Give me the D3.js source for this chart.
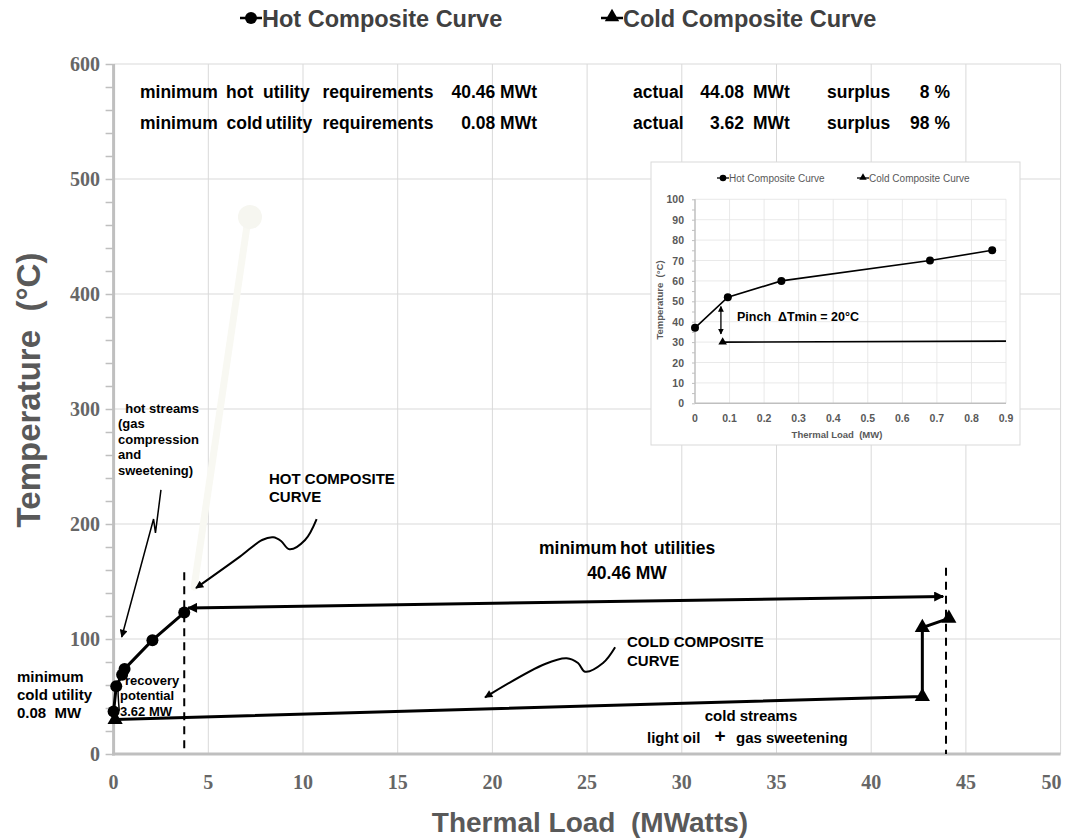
<!DOCTYPE html>
<html><head><meta charset="utf-8">
<script src="https://cdn.jsdelivr.net/npm/d3@7"></script>
<style>
body{margin:0;background:#fff}
svg{display:block}
text{font-family:"Liberation Sans",Arial,Helvetica,sans-serif;white-space:pre}
</style>
</head><body>
<svg id="c" width="1076" height="840"></svg>
<script>
// ---------- data ----------
const hotLoad = [0, 0.14, 0.45, 0.58, 2.05, 3.73];
const hotTemp = [37, 59, 69, 74, 99, 123];
const coldLoad = [0.08, 42.7, 42.7, 44.1];
const coldTemp = [30, 50, 110, 118];
const xTicks = [0, 5, 10, 15, 20, 25, 30, 35, 40, 45, 50];
const yTicks = [0, 100, 200, 300, 400, 500, 600];
const yMinorTicks = d3.range(0, 601, 20);
// pinch / utility annotation lines (load, temp)
const pinchLineLoad = [3.73, 43.95];
const pinchLineTop = [158, 162];
const pinchLineBottom = [3, 0];
const hotUtilArrowLoad = [3.93, 43.8];
const hotUtilArrowTemp = [127, 137];
// annotation curves (load, temp)
const hotNoteLoad = [10.72, 10.11, 9.28, 8.84, 8.43, 7.84, 6.67, 4.35];
const hotNoteTemp = [204.3, 186.1, 178, 185.2, 188.4, 186.1, 171.6, 144.3];
const coldNoteLoad = [26.48, 25.84, 24.89, 24.52, 23.92, 22.78, 19.61];
const coldNoteTemp = [92.8, 79.1, 71.6, 79.1, 83.2, 78.3, 49.3];
const streamNoteLoad = [2.5, 2.21, 2.11, 0.43];
const streamNoteTemp = [229.6, 192.2, 204.3, 101.7];
const recovNoteLoad = [0.72, 0.36, 0.24, 0.3];
const recovNoteTemp = [72.5, 69, 60, 37.5];
const ghostLoad = [4.25, 7.04];
const ghostTemp = [145.2, 459];
// inset
const insetHotLoad = [0, 0.095, 0.25, 0.68, 0.86];
const insetHotTemp = [37, 52, 60, 70, 75];
const insetColdLoad = [0.08, 0.9];
const insetColdTemp = [30, 30.5];
const insetXTicks = [0, 0.1, 0.2, 0.3, 0.4, 0.5, 0.6, 0.7, 0.8, 0.9];
const insetYTicks = [0, 10, 20, 30, 40, 50, 60, 70, 80, 90, 100];
const insetPinchLoad = 0.075;
const insetPinchTemp = [47.5, 34];

// ---------- setup ----------
const svg = d3.select("#c");
svg.append("rect").attr("width",1076).attr("height",840).attr("fill","#fff");
const defs = svg.append("defs");
function mk(id, w, h, orient){
  defs.append("marker").attr("id",id).attr("viewBox","0 0 10 10")
    .attr("refX",9).attr("refY",5).attr("markerWidth",w).attr("markerHeight",h)
    .attr("markerUnits","userSpaceOnUse").attr("orient",orient)
    .append("path").attr("d","M0,0 L10,5 L0,10 Z").attr("fill","#000");
}
mk("ah",13,10,"auto-start-reverse");
mk("ahs",10,8,"auto-start-reverse");
mk("ahi",6,6,"auto-start-reverse");

const x = d3.scaleLinear().domain([0,50]).range([113.6,1060.6]);
const y = d3.scaleLinear().domain([0,600]).range([754,64]);

const gridC = "#d9d9d9", axisC = "#bfbfbf", labC = "#666666";

// grid
const g = svg.append("g");
g.selectAll(".vg").data(xTicks.slice(1)).join("line")
  .attr("x1",d=>x(d)).attr("x2",d=>x(d)).attr("y1",y(0)).attr("y2",y(600))
  .attr("stroke",gridC).attr("stroke-width",1);
g.selectAll(".hg").data(yTicks.slice(1)).join("line")
  .attr("x1",x(0)).attr("x2",x(50)).attr("y1",d=>y(d)).attr("y2",d=>y(d))
  .attr("stroke",gridC).attr("stroke-width",1);

// axes
const yAxis = d3.axisLeft(y).tickValues(yMinorTicks).tickSize(8).tickFormat("");
const ya = svg.append("g").attr("transform",`translate(${x(0)},0)`).call(yAxis);
ya.selectAll("line").attr("stroke",axisC).attr("stroke-width",1.5);
ya.select(".domain").remove();
svg.append("line").attr("x1",x(0)).attr("x2",x(0)).attr("y1",y(600)).attr("y2",y(0)+1.5)
  .attr("stroke",axisC).attr("stroke-width",3);
svg.append("line").attr("x1",x(0)-1.5).attr("x2",x(50)).attr("y1",y(0)).attr("y2",y(0))
  .attr("stroke",axisC).attr("stroke-width",3);

svg.selectAll(".yl").data(yTicks).join("text")
  .attr("x",100).attr("y",d=>y(d)+7).attr("text-anchor","end")
  .style("font-family","'Liberation Serif','Times New Roman',serif").style("font-weight","bold")
  .style("font-size","20px").attr("fill",labC).text(d=>d);
svg.selectAll(".xl").data(xTicks).join("text")
  .attr("x",d=> d===50 ? x(d)+1 : x(d)).attr("y",789)
  .attr("text-anchor",d=> d===50 ? "end":"middle")
  .style("font-family","'Liberation Serif','Times New Roman',serif").style("font-weight","bold")
  .style("font-size","20px").attr("fill",labC).text(d=>d);

// axis titles
svg.append("text").attr("transform","translate(40,390) rotate(-90)").attr("text-anchor","middle")
  .style("font-size","33px").style("font-weight","bold").attr("fill","#595959").text("Temperature  (°C)");
svg.append("text").attr("x",590).attr("y",832).attr("text-anchor","middle")
  .style("font-size","28px").style("font-weight","bold").attr("fill","#595959").text("Thermal Load  (MWatts)");

// legend
const lg = svg.append("g");
lg.append("line").attr("x1",240).attr("x2",262).attr("y1",18).attr("y2",18).attr("stroke","#000").attr("stroke-width",2.5);
lg.append("circle").attr("cx",251).attr("cy",18).attr("r",6).attr("fill","#000");
lg.append("text").attr("x",262).attr("y",26.5).style("font-size","23.5px").style("font-weight","bold").attr("fill","#404040").text("Hot Composite Curve");
lg.append("line").attr("x1",601).attr("x2",623).attr("y1",18).attr("y2",18).attr("stroke","#000").attr("stroke-width",2.5);
lg.append("path").attr("transform","translate(612,17)").attr("d",d3.symbol().type(d3.symbolTriangle).size(90)()).attr("fill","#000");
lg.append("text").attr("x",623).attr("y",26.5).style("font-size","23.5px").style("font-weight","bold").attr("fill","#404040").text("Cold Composite Curve");

// top text
function t(xp,yp,s,anchor,size){
  svg.append("text").attr("x",xp).attr("y",yp).attr("text-anchor",anchor||"start")
   .style("font-size",(size||17.5)+"px").style("font-weight","bold").attr("fill","#000").text(s);
}
t(140,98,"minimum"); t(226,98,"hot"); t(263,98,"utility"); t(322.5,98,"requirements");
t(537,98,"40.46 MWt","end");
t(140,129,"minimum"); t(226.5,129,"cold"); t(265.5,129,"utility"); t(322.5,129,"requirements");
t(537,129,"0.08 MWt","end");
t(633,98,"actual"); t(744,98,"44.08","end"); t(753,98,"MWt"); t(827,98,"surplus"); t(950,98,"8 %","end");
t(633,129,"actual"); t(744,129,"3.62","end"); t(753,129,"MWt"); t(827,129,"surplus"); t(950,129,"98 %","end");

// ghost faint line
svg.append("line").attr("x1",x(ghostLoad[0])).attr("y1",y(ghostTemp[0])).attr("x2",x(ghostLoad[1])).attr("y2",y(ghostTemp[1]))
  .attr("stroke","#f8f8f2").attr("stroke-width",7).attr("stroke-linecap","round");
svg.append("circle").attr("cx",x(7.2)).attr("cy",y(467)).attr("r",12).attr("fill","#f6f6f0");

// dashed pinch lines
svg.selectAll(".dl").data(pinchLineLoad).join("line")
  .attr("x1",d=>x(d)).attr("x2",d=>x(d)).attr("y1",(d,i)=>y(pinchLineTop[i])).attr("y2",(d,i)=>y(pinchLineBottom[i]))
  .attr("stroke","#000").attr("stroke-width",2).attr("stroke-dasharray","8,6");

// hot utility arrow
svg.append("line").attr("x1",x(hotUtilArrowLoad[0])).attr("y1",y(hotUtilArrowTemp[0]))
  .attr("x2",x(hotUtilArrowLoad[1])).attr("y2",y(hotUtilArrowTemp[1]))
  .attr("stroke","#000").attr("stroke-width",3)
  .attr("marker-start","url(#ah)").attr("marker-end","url(#ah)");

// curves
const line = d3.line().x(d=>x(d[0])).y(d=>y(d[1]));
const hotPts = hotLoad.map((v,i)=>[v,hotTemp[i]]);
const coldPts = coldLoad.map((v,i)=>[v,coldTemp[i]]);
svg.append("path").attr("d",line(hotPts)).attr("fill","none").attr("stroke","#000").attr("stroke-width",3);
svg.append("path").attr("d",line(coldPts)).attr("fill","none").attr("stroke","#000").attr("stroke-width",3);
svg.selectAll(".hp").data(hotPts).join("circle").attr("cx",d=>x(d[0])).attr("cy",d=>y(d[1])).attr("r",6).attr("fill","#000");
svg.selectAll(".cp").data(coldPts).join("path")
  .attr("transform",d=>`translate(${x(d[0])},${y(d[1])})`)
  .attr("d",d3.symbol().type(d3.symbolTriangle).size(100)()).attr("fill","#000");

// annotation arrows
const cr = d3.line().x(d=>x(d[0])).y(d=>y(d[1])).curve(d3.curveCatmullRom);
svg.append("path").attr("d",cr(hotNoteLoad.map((v,i)=>[v,hotNoteTemp[i]])))
  .attr("fill","none").attr("stroke","#000").attr("stroke-width",2).attr("marker-end","url(#ahs)");
svg.append("path").attr("d",cr(coldNoteLoad.map((v,i)=>[v,coldNoteTemp[i]])))
  .attr("fill","none").attr("stroke","#000").attr("stroke-width",2).attr("marker-end","url(#ahs)");
svg.append("path").attr("d",line(streamNoteLoad.map((v,i)=>[v,streamNoteTemp[i]])))
  .attr("fill","none").attr("stroke","#000").attr("stroke-width",1.5).attr("marker-end","url(#ahs)");
svg.append("path").attr("d",cr(recovNoteLoad.map((v,i)=>[v,recovNoteTemp[i]])))
  .attr("fill","none").attr("stroke","#000").attr("stroke-width",1.5);

// annotation texts
t(539,554,"minimum"); t(620,554,"hot"); t(654,554,"utilities");
t(627,579,"40.46 MW","middle",17.5);
t(269,484,"HOT COMPOSITE","start",15);
t(269,502,"CURVE","start",15);
t(627,647,"COLD COMPOSITE","start",15);
t(627,666,"CURVE","start",15);
t(751,721,"cold streams","middle",15);
t(647,743,"light oil","start",15);
t(720,742,"+","middle",19);
t(736,743,"gas sweetening","start",15);
t(118,413,"  hot streams","start",13);
t(118,428,"(gas","start",13);
t(118,444,"compression","start",13);
t(118,459,"and","start",13);
t(118,475,"sweetening)","start",13);
t(17,682,"minimum","start",15);
t(17,700,"cold utility","start",15);
t(17,718,"0.08  MW","start",15);
t(125,685,"recovery","start",13);
t(120,700,"potential","start",13);
t(120,716,"3.62 MW","start",13);

// ---------- inset ----------
const ins = svg.append("g");
ins.append("rect").attr("x",651).attr("y",162).attr("width",369).attr("height",283)
  .attr("fill","#fff").attr("stroke","#d9d9d9").attr("stroke-width",1);
const ix = d3.scaleLinear().domain([0,0.9]).range([695,1006]);
const iy = d3.scaleLinear().domain([0,100]).range([403.3,199.3]);
ins.selectAll(".ivg").data(insetXTicks.slice(1)).join("line")
  .attr("x1",d=>ix(d)).attr("x2",d=>ix(d)).attr("y1",iy(0)).attr("y2",iy(100))
  .attr("stroke","#e3e3e3").attr("stroke-width",0.8);
ins.selectAll(".ihg").data(insetYTicks.slice(1)).join("line")
  .attr("x1",ix(0)).attr("x2",ix(0.9)).attr("y1",d=>iy(d)).attr("y2",d=>iy(d))
  .attr("stroke","#e3e3e3").attr("stroke-width",0.8);
ins.append("line").attr("x1",ix(0)).attr("x2",ix(0)).attr("y1",iy(100)).attr("y2",iy(0)).attr("stroke",axisC).attr("stroke-width",1.5);
ins.append("line").attr("x1",ix(0)).attr("x2",ix(0.9)).attr("y1",iy(0)).attr("y2",iy(0)).attr("stroke",axisC).attr("stroke-width",1.5);
const iya = ins.append("g").attr("transform",`translate(${ix(0)},0)`)
  .call(d3.axisLeft(iy).tickValues(d3.range(0,101,5)).tickSize(3).tickFormat(""));
iya.selectAll("line").attr("stroke",axisC); iya.select(".domain").remove();
ins.selectAll(".iyl").data(insetYTicks).join("text")
  .attr("x",684).attr("y",d=>iy(d)+4).attr("text-anchor","end")
  .style("font-size","10.5px").style("font-weight","bold").attr("fill","#595959").text(d=>d);
ins.selectAll(".ixl").data(insetXTicks).join("text")
  .attr("x",d=>ix(d)).attr("y",422).attr("text-anchor","middle")
  .style("font-size","10.5px").style("font-weight","bold").attr("fill","#595959").text(d=>d);
ins.append("text").attr("transform","translate(663,300) rotate(-90)").attr("text-anchor","middle")
  .style("font-size","9.5px").style("font-weight","bold").attr("fill","#595959").text("Temperature  (°C)");
ins.append("text").attr("x",837).attr("y",438).attr("text-anchor","middle")
  .style("font-size","9.5px").style("font-weight","bold").attr("fill","#595959").text("Thermal Load  (MW)");
// inset legend
ins.append("line").attr("x1",717).attr("x2",729).attr("y1",178).attr("y2",178).attr("stroke","#000").attr("stroke-width",1.3);
ins.append("circle").attr("cx",723).attr("cy",178).attr("r",3.3).attr("fill","#000");
ins.append("text").attr("x",729).attr("y",181.5).style("font-size","10px").attr("fill","#595959").text("Hot Composite Curve");
ins.append("line").attr("x1",857).attr("x2",869).attr("y1",178).attr("y2",178).attr("stroke","#000").attr("stroke-width",1.3);
ins.append("path").attr("transform","translate(863,177.5)").attr("d",d3.symbol().type(d3.symbolTriangle).size(24)()).attr("fill","#000");
ins.append("text").attr("x",869).attr("y",181.5).style("font-size","10px").attr("fill","#595959").text("Cold Composite Curve");
// inset curves
const il = d3.line().x(d=>ix(d[0])).y(d=>iy(d[1]));
const iHot = insetHotLoad.map((v,i)=>[v,insetHotTemp[i]]);
const iCold = insetColdLoad.map((v,i)=>[v,insetColdTemp[i]]);
ins.append("path").attr("d",il(iHot)).attr("fill","none").attr("stroke","#000").attr("stroke-width",1.6);
ins.append("path").attr("d",il(iCold)).attr("fill","none").attr("stroke","#000").attr("stroke-width",1.6);
ins.selectAll(".ihp").data(iHot).join("circle").attr("cx",d=>ix(d[0])).attr("cy",d=>iy(d[1])).attr("r",4).attr("fill","#000");
ins.append("path").attr("transform",`translate(${ix(iCold[0][0])},${iy(iCold[0][1])})`)
  .attr("d",d3.symbol().type(d3.symbolTriangle).size(32)()).attr("fill","#000");
ins.append("line").attr("x1",ix(insetPinchLoad)).attr("x2",ix(insetPinchLoad))
  .attr("y1",iy(insetPinchTemp[0])).attr("y2",iy(insetPinchTemp[1]))
  .attr("stroke","#000").attr("stroke-width",1.3)
  .attr("marker-start","url(#ahi)").attr("marker-end","url(#ahi)");
ins.append("text").attr("x",737).attr("y",320.5).style("font-size","12.5px").style("font-weight","bold").attr("fill","#000").text("Pinch  ΔTmin = 20°C");
</script>
</body></html>
